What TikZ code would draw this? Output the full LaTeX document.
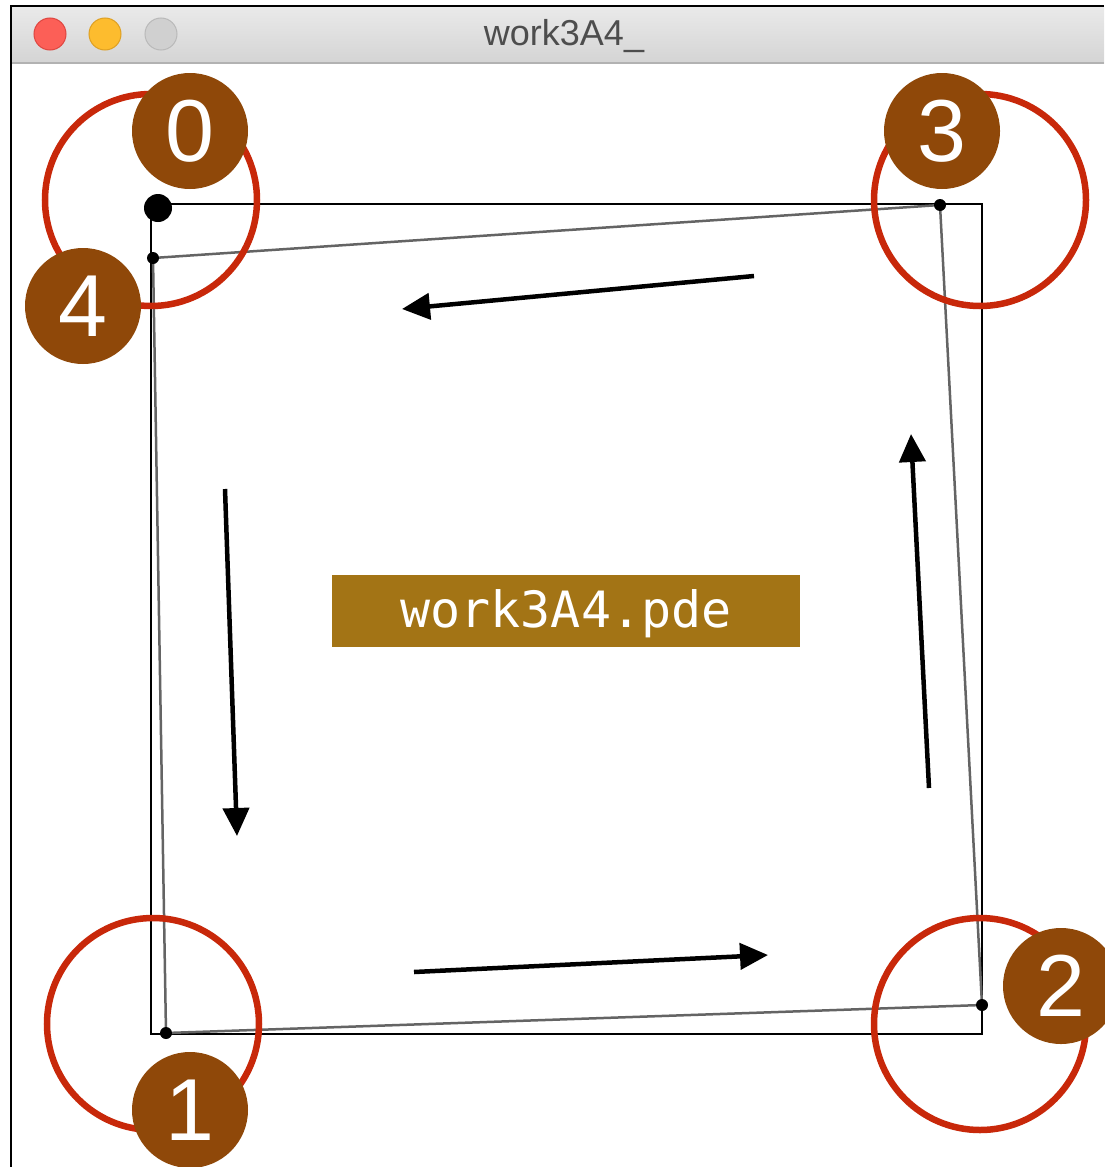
\documentclass[tikz,border=0pt]{standalone}
\usepackage{fontspec}
\setmainfont{Liberation Sans}
\newfontfamily\monofont{DejaVu Sans Mono}
\usetikzlibrary{arrows.meta}
\definecolor{ringred}{RGB}{200,40,10}
\definecolor{numbrown}{RGB}{143,72,9}
\definecolor{labelbg}{RGB}{163,116,21}
\definecolor{tlred}{RGB}{252,95,87}
\definecolor{tlredb}{RGB}{222,70,64}
\definecolor{tlyellow}{RGB}{253,188,46}
\definecolor{tlyellowb}{RGB}{222,160,35}
\definecolor{tlgray}{RGB}{208,208,208}
\definecolor{tlgrayb}{RGB}{185,185,185}
\definecolor{titlegray}{RGB}{77,77,77}
\definecolor{bartop}{RGB}{234,234,234}
\definecolor{barbot}{RGB}{212,212,212}
\definecolor{quadgray}{RGB}{100,100,100}
\tikzset{
  light/.style={circle, minimum size=32pt, inner sep=0pt, line width=1pt},
  ring/.style={circle, draw=ringred, line width=6.5pt, minimum size=212pt, inner sep=0pt},
  numdisc/.style={circle, fill=numbrown, minimum size=116pt, inner sep=0pt, text=white,
    font=\fontsize{88}{90}\selectfont},
  vdot/.style={circle, fill=black, minimum size=12pt, inner sep=0pt},
  flow/.style={line width=4.5pt, -{Triangle[length=28pt,width=26pt]}},
  quadline/.style={draw=quadgray, line width=2.5pt},
}
\begin{document}
\begin{tikzpicture}[x=1pt,y=-1pt]
\useasboundingbox (0,0) rectangle (1104,1167);
\fill[white] (0,0) rectangle (1104,1167);
% window chrome
\shade[top color=bartop, bottom color=barbot] (11,6) rectangle (1104,63);
\draw[gray!60, line width=1.5pt] (11,63) -- (1104,63);
\draw[black, line width=2.5pt] (11,1167) -- (11,6) -- (1104,6);
\node[light, fill=tlred, draw=tlredb] (close) at (50,34) {};
\node[light, fill=tlyellow, draw=tlyellowb] (minimize) at (105,34) {};
\node[light, fill=tlgray, draw=tlgrayb] (zoom) at (161,34) {};
\node[text=titlegray, font=\fontsize{36}{40}\selectfont] (title) at (564,36) {work3A4\_};
% reference frame
\node[draw, line width=2pt, minimum width=831pt, minimum height=830pt, inner sep=0pt] (frame) at (566.5,619) {};
% rotated quad
\coordinate (q0) at (153,258);
\coordinate (q1) at (166,1033);
\coordinate (q2) at (982,1005);
\coordinate (q3) at (940,205);
\draw[quadline] (q0) -- (q1) -- (q2) -- (q3) -- cycle;
\node[vdot] (d0) at (q0) {};
\node[vdot] (d1) at (q1) {};
\node[vdot] (d2) at (q2) {};
\node[vdot] (d3) at (q3) {};
\node[circle, fill=black, minimum size=28pt, inner sep=0pt] (start) at (158,208) {};
% arrows
\coordinate (a0s) at (754,276); \coordinate (a0e) at (402,309);
\coordinate (a1s) at (225,489); \coordinate (a1e) at (237,836);
\coordinate (a2s) at (414,972); \coordinate (a2e) at (768,955);
\coordinate (a3s) at (929,788); \coordinate (a3e) at (911,434);
\draw[flow] (a0s) -- (a0e);
\draw[flow] (a1s) -- (a1e);
\draw[flow] (a2s) -- (a2e);
\draw[flow] (a3s) -- (a3e);
% rings
\node[ring] (r0) at (151,200) {};
\node[ring] (r3) at (980,200) {};
\node[ring] (r1) at (153,1024) {};
\node[ring] (r2) at (980,1024) {};
% numbers
\node[numdisc] (n0) at (190,131) {0};
\node[numdisc] (n4) at (83,306) {4};
\node[numdisc] (n3) at (942,131) {3};
\node[numdisc] (n1) at (190,1110) {1};
\node[numdisc] (n2) at (1061,986) {2};
% label
\node[fill=labelbg, minimum width=468pt, minimum height=72pt, inner sep=0pt] (label) at (566,611) {};
\node[text=white, inner sep=0pt, font=\monofont\fontsize{50}{50}\selectfont] (labeltext) at (566,614) {work3A4.pde};
\end{tikzpicture}
\end{document}
